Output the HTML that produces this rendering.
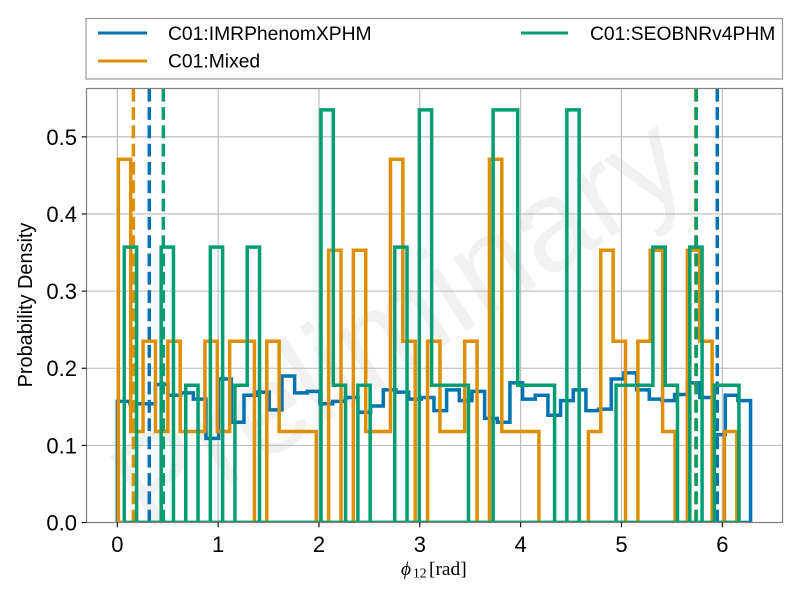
<!DOCTYPE html>
<html lang="en">
<head>
<meta charset="utf-8">
<title>Probability density of phi12</title>
<style>
  html, body { margin: 0; padding: 0; background: #fff; }
  svg { display: block; }
  text { font-family: "Liberation Sans", sans-serif; fill: #000; }
</style>
</head>
<body>
<svg id="chart" width="800" height="600" viewBox="0 0 800 600" xmlns="http://www.w3.org/2000/svg">
  <defs>
    <clipPath id="plot-clip"><rect x="86.5" y="88.5" width="696" height="434"></rect></clipPath>
  </defs>
  <rect x="0" y="0" width="800" height="600" fill="#fff"></rect>
  <g clip-path="url(#plot-clip)">
    <text x="398" y="322" transform="rotate(-33 398 322)" text-anchor="middle" dominant-baseline="central" font-size="130" style="fill:#000;fill-opacity:0.055">Preliminary</text>
  </g>
  <g id="grid"></g>
  <g id="series" clip-path="url(#plot-clip)"></g>
  <g id="axes"></g>
  <g>
    <rect x="86" y="18.5" width="696.5" height="60.5" fill="#fff" stroke="#999" stroke-width="1.2"></rect>
    <line x1="98" y1="33" x2="147" y2="33" stroke="#0173B2" stroke-width="3"></line>
    <text x="168" y="40" font-size="19.3">C01:IMRPhenomXPHM</text>
    <line x1="98" y1="61" x2="147" y2="61" stroke="#DE8F05" stroke-width="3"></line>
    <text x="168" y="67.5" font-size="19.3">C01:Mixed</text>
    <line x1="521" y1="33" x2="568" y2="33" stroke="#029E73" stroke-width="3"></line>
    <text x="590" y="40" font-size="19.3">C01:SEOBNRv4PHM</text>
  </g>
  <text x="0" y="0" transform="translate(32 305) rotate(-90)" text-anchor="middle" font-size="19.9">Probability Density</text>
  <text y="575" font-size="19.4" style="font-family:'Liberation Serif','DejaVu Serif',serif"><tspan x="401" font-style="italic">ϕ</tspan><tspan x="413" y="577.5" font-size="13.6">12</tspan><tspan x="429" y="575">[rad]</tspan></text>
</svg>
<script>
// Chart data
var xTickValues = [0, 1, 2, 3, 4, 5, 6];
var yTickValues = [0.0, 0.1, 0.2, 0.3, 0.4, 0.5];
var yTickLabels = ['0.0', '0.1', '0.2', '0.3', '0.4', '0.5'];
var xDomain = [-0.3058, 6.5968];
var yDomain = [0, 0.5627];

var imrRange = [0.0, 6.28];
var mixedRange = [0.01, 6.144];
var seobRange = [0.069, 6.165];

var imrDensity = [0.157, 0.154, 0.154, 0.179, 0.165, 0.168, 0.160, 0.109, 0.186, 0.130,
  0.165, 0.169, 0.146, 0.190, 0.168, 0.170, 0.154, 0.157, 0.162, 0.143,
  0.151, 0.172, 0.169, 0.160, 0.162, 0.145, 0.172, 0.158, 0.170, 0.135,
  0.130, 0.181, 0.160, 0.165, 0.139, 0.158, 0.172, 0.145, 0.147, 0.186,
  0.194, 0.172, 0.160, 0.158, 0.166, 0.181, 0.162, 0.114, 0.165, 0.158];
var mixedDensity = [0.471, 0.118, 0.235, 0.118, 0.235, 0.118, 0.118, 0.235, 0.118, 0.235,
  0.235, 0, 0.235, 0.118, 0.118, 0.118, 0, 0.353, 0, 0.353,
  0.118, 0.118, 0.471, 0.235, 0, 0.235, 0.118, 0.118, 0.235, 0,
  0.471, 0.118, 0.118, 0.118, 0, 0, 0, 0, 0.118, 0.353,
  0.235, 0, 0.235, 0.353, 0.118, 0, 0.353, 0.235, 0, 0.118];
var seobDensity = [0.357, 0, 0, 0.357, 0, 0.178, 0, 0.357, 0, 0.178,
  0.357, 0, 0, 0, 0, 0, 0.535, 0.178, 0, 0.178,
  0, 0, 0.357, 0, 0.535, 0.178, 0.178, 0.178, 0, 0,
  0.535, 0.535, 0.178, 0.178, 0.178, 0, 0.535, 0, 0, 0,
  0.178, 0.178, 0.178, 0.357, 0.178, 0, 0.357, 0, 0.178, 0.178];

var imrBounds = [0.317, 5.95];
var mixedBounds = [0.159, 5.737];
var seobBounds = [0.456, 5.742];

var NS = 'http://www.w3.org/2000/svg';
var plotLeft = 86.5, plotRight = 782.5, plotTop = 88.5, plotBottom = 522.5;

function xScale(v) {
  return plotLeft + (v - xDomain[0]) / (xDomain[1] - xDomain[0]) * (plotRight - plotLeft);
}
function yScale(v) {
  return plotBottom - (v - yDomain[0]) / (yDomain[1] - yDomain[0]) * (plotBottom - plotTop);
}
function make(tag, parent) {
  var el = document.createElementNS(NS, tag);
  parent.appendChild(el);
  return el;
}
function stepPath(values, range) {
  var width = (range[1] - range[0]) / values.length;
  var d = 'M' + xScale(range[0]).toFixed(2) + ' ' + yScale(0).toFixed(2);
  for (var i = 0; i < values.length; i++) {
    var y = yScale(values[i]).toFixed(2);
    d += 'L' + xScale(range[0] + i * width).toFixed(2) + ' ' + y;
    d += 'L' + xScale(range[0] + (i + 1) * width).toFixed(2) + ' ' + y;
  }
  d += 'L' + xScale(range[1]).toFixed(2) + ' ' + yScale(0).toFixed(2) + 'Z';
  return d;
}

var grid = document.getElementById('grid');
var axes = document.getElementById('axes');
var seriesGroup = document.getElementById('series');

xTickValues.forEach(function (v) {
  var g = make('line', grid);
  
  
  g.setAttribute('x1', xScale(v));
  g.setAttribute('x2', xScale(v));
  g.setAttribute('y1', plotTop);
  g.setAttribute('y2', plotBottom);
  g.setAttribute('stroke', '#b8b8b8');
  g.setAttribute('stroke-width', '1.1');
});
yTickValues.forEach(function (v) {
  var g = make('line', grid);
  
  
  g.setAttribute('x1', plotLeft);
  g.setAttribute('x2', plotRight);
  g.setAttribute('y1', yScale(v));
  g.setAttribute('y2', yScale(v));
  g.setAttribute('stroke', '#b8b8b8');
  g.setAttribute('stroke-width', '1.1');
});

function drawSeries(name, values, range, bounds, color) {
  var p = make('path', seriesGroup);
  
  
  p.setAttribute('d', stepPath(values, range));
  p.setAttribute('fill', 'none');
  p.setAttribute('stroke', color);
  p.setAttribute('stroke-width', '3.5');
  p.setAttribute('stroke-linejoin', 'miter');
  bounds.forEach(function (b) {
    var l = make('line', seriesGroup);
    
    
    l.setAttribute('x1', xScale(b));
    l.setAttribute('x2', xScale(b));
    l.setAttribute('y1', plotBottom);
    l.setAttribute('y2', plotTop);
    l.setAttribute('stroke', color);
    l.setAttribute('stroke-width', '3.5');
    l.setAttribute('stroke-dasharray', '12.8 5.5');
  });
}
drawSeries('imrphenomxphm', imrDensity, imrRange, imrBounds, '#0173B2');
drawSeries('mixed', mixedDensity, mixedRange, mixedBounds, '#DE8F05');
drawSeries('seobnrv4phm', seobDensity, seobRange, seobBounds, '#029E73');

var frame = make('rect', axes);


frame.setAttribute('x', plotLeft);
frame.setAttribute('y', plotTop);
frame.setAttribute('width', plotRight - plotLeft);
frame.setAttribute('height', plotBottom - plotTop);
frame.setAttribute('fill', 'none');
frame.setAttribute('stroke', '#808080');
frame.setAttribute('stroke-width', '1.2');

xTickValues.forEach(function (v) {
  var t = make('line', axes);
  
  
  t.setAttribute('x1', xScale(v));
  t.setAttribute('x2', xScale(v));
  t.setAttribute('y1', plotBottom);
  t.setAttribute('y2', plotBottom + 4.8);
  t.setAttribute('stroke', '#000');
  t.setAttribute('stroke-width', '1.1');
  var label = make('text', axes);
  
  
  label.setAttribute('x', xScale(v));
  label.setAttribute('y', 552);
  label.setAttribute('text-anchor', 'middle');
  label.setAttribute('font-size', '22');
  label.textContent = String(v);
});
yTickValues.forEach(function (v, i) {
  var t = make('line', axes);
  
  
  t.setAttribute('x1', plotLeft);
  t.setAttribute('x2', plotLeft - 4.8);
  t.setAttribute('y1', yScale(v));
  t.setAttribute('y2', yScale(v));
  t.setAttribute('stroke', '#000');
  t.setAttribute('stroke-width', '1.1');
  var label = make('text', axes);
  
  
  label.setAttribute('x', 77);
  label.setAttribute('y', yScale(v) + 8);
  label.setAttribute('text-anchor', 'end');
  label.setAttribute('font-size', '22');
  label.textContent = yTickLabels[i];
});
</script>
</body>
</html>
